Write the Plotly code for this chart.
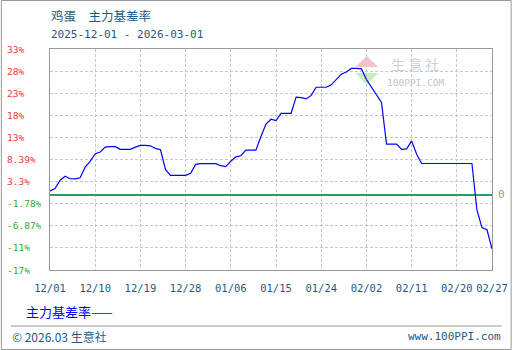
import numpy as np
import pandas as pd
import plotly.graph_objects as go

# ---- data ----
start_date = "2025-12-01"
end_date = "2026-02-27"
basis_rate = [
    0.9, 1.45, 3.25, 4.2, 3.65, 3.6, 3.85, 6.3, 7.6, 9.3,
    9.7, 10.8, 10.9, 10.9, 10.3, 10.3, 10.3, 10.8, 11.2, 11.2,
    11.1, 10.5, 10.2, 5.7, 4.4, 4.4, 4.4, 4.4, 4.9, 6.9,
    7.05, 7.05, 7.05, 7.05, 6.6, 6.4, 7.6, 8.6, 8.85, 10.1,
    10.1, 10.1, 13.2, 16.0, 17.1, 16.8, 18.45, 18.45, 18.45, 22.1,
    22.0, 21.7, 22.5, 24.35, 24.35, 24.35, 24.9, 26.2, 27.3, 27.8,
    28.6, 28.6, 28.5, 26.1, 24.4, 22.6, 20.9, 11.5, 11.5, 11.5,
    10.3, 10.4, 12.2, 9.2, 7.1, 7.1, 7.1, 7.1, 7.1, 7.1,
    7.1, 7.1, 7.1, 7.1, 7.1, -3.4, -7.4, -7.9, -12.2,
]
x_tick_dates = ["2025-12-01", "2025-12-10", "2025-12-19", "2025-12-28", "2026-01-06",
                "2026-01-15", "2026-01-24", "2026-02-02", "2026-02-11", "2026-02-20",
                "2026-02-27"]
x_tick_labels = ["12/01", "12/10", "12/19", "12/28", "01/06", "01/15", "01/24",
                 "02/02", "02/11", "02/20", "02/27"]
y_tick_labels = ["33%", "28%", "23%", "18%", "13%", "8.39%", "3.3%",
                 "-1.78%", "-6.87%", "-11%", "-17%"]
y_top, y_bottom = 33, -17
series_name = "主力基差率"
title_text = "鸡蛋\u3000主力基差率"
subtitle_text = "2025-12-01 - 2026-03-01"

dates = pd.date_range(start_date, end_date, freq="D")
assert len(dates) == len(basis_rate)
y_tick_pos = np.linspace(y_top, y_bottom, len(y_tick_labels))

# ---- layout helpers (pixel -> paper) ----
L, R, T, B = 50, 20, 49, 80
W, H = 520, 350
PW, PH = W - L - R, H - T - B


def px(x):
    return (x - L) / PW


def py(y):
    return (H - B - y) / PH


MONO = "DejaVu Sans Mono"
CJK = "Noto Sans CJK SC"
TEAL = "#1d5a86"

fig = go.Figure()
fig.add_trace(go.Scatter(
    x=dates, y=basis_rate, mode="lines", name=series_name,
    line=dict(color="#0000ff", width=1.2), showlegend=False,
    hoverinfo="skip",
))

fig.update_layout(
    width=W, height=H,
    margin=dict(l=L, r=R, t=T, b=B),
    paper_bgcolor="white", plot_bgcolor="white",
    showlegend=False,
    xaxis=dict(
        type="date", range=[start_date, end_date],
        tickmode="array", tickvals=x_tick_dates, ticktext=x_tick_labels,
        showgrid=True, gridcolor="#c8c8c8", gridwidth=1, griddash="3px,2px",
        showline=True, linecolor="#999999", linewidth=1, mirror=True,
        ticks="", ticklabelstandoff=8,
        tickfont=dict(family=MONO, size=10.5, color=TEAL),
        zeroline=False,
    ),
    yaxis=dict(
        range=[y_bottom, y_top],
        tickmode="array", tickvals=list(y_tick_pos),
        showticklabels=False,
        showgrid=True, gridcolor="#c8c8c8", gridwidth=1, griddash="3px,2px",
        showline=True, linecolor="#999999", linewidth=1, mirror=True,
        zeroline=True, zerolinecolor="#339966", zerolinewidth=1.5,
    ),
)

annotations = []
# y tick labels (left aligned, coloured by sign)
for pos, lab in zip(y_tick_pos, y_tick_labels):
    col = "#33aa33" if lab.startswith("-") else "#f03a3a"
    annotations.append(dict(
        x=px(4), xref="paper", y=pos, yref="y", text=lab, showarrow=False,
        xanchor="left", yanchor="middle",
        font=dict(family=MONO, size=9.5, color=col),
    ))
# right-side zero label
annotations.append(dict(
    x=px(504), xref="paper", y=0, yref="y", text="0", showarrow=False,
    xanchor="left", yanchor="middle",
    font=dict(family=MONO, size=11, color="#999999"),
))
# title & subtitle
annotations.append(dict(
    x=px(49), y=py(15), xref="paper", yref="paper", text=title_text,
    showarrow=False, xanchor="left", yanchor="middle",
    font=dict(family=CJK, size=12.5, color=TEAL),
))
annotations.append(dict(
    x=px(49), y=py(34.5), xref="paper", yref="paper", text=subtitle_text,
    showarrow=False, xanchor="left", yanchor="middle",
    font=dict(family=MONO, size=11, color=TEAL),
))
# legend-like label
annotations.append(dict(
    x=px(24), y=py(311), xref="paper", yref="paper", text=series_name + "——",
    showarrow=False, xanchor="left", yanchor="middle",
    font=dict(family=CJK, size=13, color="#0000ff"),
))
# footer
annotations.append(dict(
    x=px(9), y=py(336), xref="paper", yref="paper", text="© 2026.03 生意社",
    showarrow=False, xanchor="left", yanchor="middle",
    font=dict(family=CJK, size=12, color=TEAL),
))
annotations.append(dict(
    x=px(511), y=py(336), xref="paper", yref="paper", text="www.100PPI.com",
    showarrow=False, xanchor="right", yanchor="middle",
    font=dict(family=MONO, size=11, color=TEAL),
))
# watermark
annotations.append(dict(
    x=px(422), y=py(64), xref="paper", yref="paper", text="生 意 社",
    showarrow=False, xanchor="center", yanchor="middle", borderpad=0,
    font=dict(family=CJK, size=14, color="#c9d1e2"),
))
annotations.append(dict(
    x=px(422), y=py(82), xref="paper", yref="paper", text="100PPI.COM",
    showarrow=False, xanchor="center", yanchor="middle", borderpad=0,
    font=dict(family=MONO, size=9.5, color="#c4c4c4"),
))
fig.update_layout(annotations=annotations)

shapes = []
# outer frame
shapes.append(dict(type="rect", xref="paper", yref="paper",
                   x0=px(0.5), x1=px(519.5), y0=py(349.5), y1=py(0.5),
                   line=dict(color="#999999", width=1), layer="below"))
# footer separator
shapes.append(dict(type="line", xref="paper", yref="paper",
                   x0=px(10), x1=px(510), y0=py(326), y1=py(326),
                   line=dict(color="#999999", width=1)))
# watermark logo triangles
shapes.append(dict(type="path", xref="paper", yref="paper",
                   path=f"M {px(372.5)} {py(56)} L {px(361)} {py(67)} L {px(384)} {py(67)} Z",
                   fillcolor="#f6c4c4", line=dict(width=0), layer="below"))
shapes.append(dict(type="path", xref="paper", yref="paper",
                   path=f"M {px(361)} {py(73)} L {px(384)} {py(73)} L {px(372.5)} {py(85)} Z",
                   fillcolor="#c6ecc6", line=dict(width=0), layer="below"))
fig.update_layout(shapes=shapes)

fig.write_html("out.html")
